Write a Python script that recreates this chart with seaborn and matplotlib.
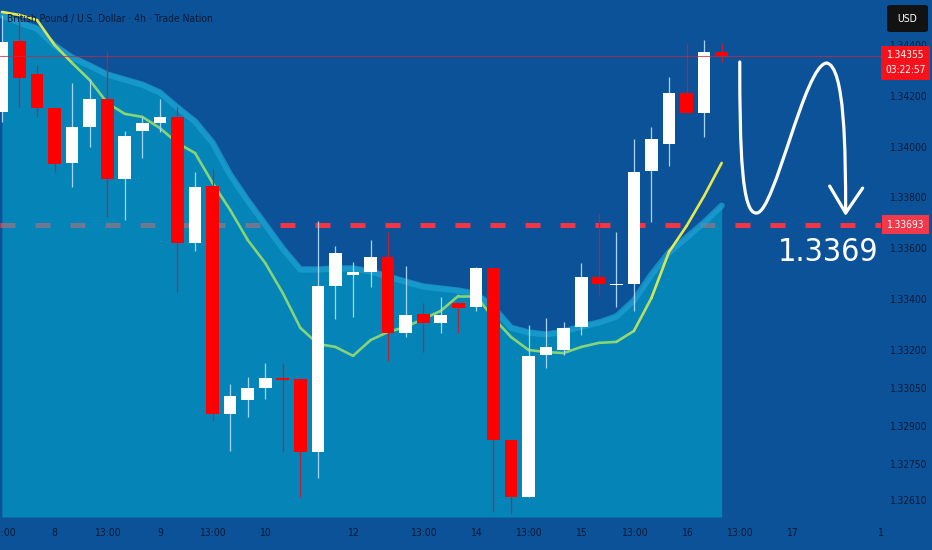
import numpy as np
import matplotlib
matplotlib.use('Agg')
import matplotlib.pyplot as plt
import matplotlib.transforms as mtransforms
from matplotlib.collections import LineCollection
from matplotlib.path import Path
from matplotlib.patches import PathPatch, FancyBboxPatch
import seaborn as sns

# GBP/USD 4h candles
opens = [1.34136, 1.34416, 1.34286, 1.34152, 1.33936, 1.34077, 1.34188, 1.33873, 1.34062, 1.34093,
         1.34117, 1.33621, 1.33845, 1.32948, 1.33003, 1.33051, 1.33090, 1.33086, 1.32799, 1.33452,
         1.33495, 1.33507, 1.33566, 1.33267, 1.33342, 1.33306, 1.33385, 1.33369, 1.33523, 1.32846,
         1.32622, 1.33180, 1.33200, 1.33291, 1.33487, 1.33456, 1.33460, 1.33904, 1.34011, 1.34211,
         1.34132, 1.34372]
highs = [1.34518, 1.34498, 1.34321, 1.34152, 1.34251, 1.34266, 1.34376, 1.34062, 1.34117, 1.34188,
         1.34156, 1.33900, 1.33912, 1.33066, 1.33094, 1.33149, 1.33149, 1.33086, 1.33708, 1.33609,
         1.33546, 1.33633, 1.33664, 1.33531, 1.33385, 1.33409, 1.33385, 1.33527, 1.33523, 1.32846,
         1.33298, 1.33326, 1.33310, 1.33542, 1.33739, 1.33664, 1.34030, 1.34077, 1.34274, 1.34408,
         1.34420, 1.34408]
lows = [1.34097, 1.34156, 1.34117, 1.33900, 1.33841, 1.33999, 1.33723, 1.33712, 1.33955, 1.34058,
        1.33428, 1.33590, 1.32921, 1.32803, 1.32937, 1.33007, 1.32799, 1.32622, 1.32697, 1.33322,
        1.33330, 1.33448, 1.33157, 1.33251, 1.33192, 1.33267, 1.33267, 1.33354, 1.32563, 1.32555,
        1.32622, 1.33129, 1.33180, 1.33259, 1.33417, 1.33369, 1.33354, 1.33704, 1.33924, 1.34132,
        1.34038, 1.34333]
closes = [1.34412, 1.34270, 1.34152, 1.33932, 1.34077, 1.34188, 1.33873, 1.34042, 1.34093, 1.34117,
          1.33621, 1.33841, 1.32948, 1.33019, 1.33051, 1.33090, 1.33082, 1.32799, 1.33452, 1.33582,
          1.33507, 1.33566, 1.33267, 1.33338, 1.33306, 1.33338, 1.33365, 1.33523, 1.32846, 1.32622,
          1.33177, 1.33212, 1.33287, 1.33487, 1.33460, 1.33460, 1.33900, 1.34030, 1.34211, 1.34132,
          1.34372, 1.34355]

# moving average line and upper edge of the shaded band
ma_line = [1.34530, 1.34518, 1.34498, 1.34400, 1.34329, 1.34262, 1.34172, 1.34129, 1.34117, 1.34073,
           1.34014, 1.33975, 1.33857, 1.33751, 1.33633, 1.33542, 1.33424, 1.33287, 1.33224, 1.33212,
           1.33177, 1.33239, 1.33271, 1.33291, 1.33322, 1.33354, 1.33413, 1.33413, 1.33326, 1.33251,
           1.33200, 1.33192, 1.33188, 1.33212, 1.33228, 1.33232, 1.33275, 1.33405, 1.33586, 1.33688,
           1.33806, 1.33936]
band_top = [1.34526, 1.34498, 1.34475, 1.34408, 1.34361, 1.34329, 1.34294, 1.34274, 1.34254, 1.34223,
            1.34164, 1.34109, 1.34026, 1.33900, 1.33798, 1.33704, 1.33609, 1.33527, 1.33527, 1.33531,
            1.33531, 1.33519, 1.33499, 1.33479, 1.33460, 1.33452, 1.33444, 1.33432, 1.33377, 1.33298,
            1.33279, 1.33271, 1.33283, 1.33302, 1.33318, 1.33342, 1.33405, 1.33507, 1.33594, 1.33653,
            1.33712, 1.33778]

tick_pos = [0, 3, 6, 9, 12, 15, 20, 24, 27, 30, 33, 36, 39, 42, 45, 50]
tick_labels = ['13:00', '8', '13:00', '9', '13:00', '10', '12', '13:00', '14', '13:00',
               '15', '13:00', '16', '13:00', '17', '1']
price_ticks = [1.344, 1.342, 1.340, 1.338, 1.336, 1.334, 1.332, 1.3305, 1.329, 1.3275, 1.3261]

last_price = 1.34355
countdown = '03:22:57'
target = 1.33693

# hand drawn arrow (candle index, price)
arrow_x = [42.03, 42.03, 42.14, 43.00, 44.02, 45.73, 46.98, 48.01, 48.06, 48.06]
arrow_y = [1.34333, 1.33987, 1.33731, 1.33739, 1.33743, 1.34325, 1.34329, 1.34317, 1.33987, 1.33739]
head_x = [47.15, 48.06, 49.03]
head_y = [1.33845, 1.33739, 1.33837]

BG = '#0b5299'
TXT = '#0c1a33'

sns.set_theme(style='dark', rc={'axes.facecolor': BG, 'figure.facecolor': BG,
                                'axes.edgecolor': BG, 'axes.grid': False})
plt.rcParams['font.family'] = ['DejaVu Sans']
plt.rcParams['font.stretch'] = 'condensed'

o = np.array(opens)
h = np.array(highs)
l = np.array(lows)
c = np.array(closes)
idx = np.arange(len(o))
up = c >= o

fig = plt.figure(figsize=(9.32, 5.5), dpi=100)
ax = fig.add_axes([0, 0.06, 0.945, 0.94])
ax.set_xlim(-0.11, 50.06)
ax.set_ylim(1.32543, 1.34577)
for s in ax.spines.values():
    s.set_visible(False)

# target line sits under the shaded band
ax.axhline(target, color='#f23645', lw=3.6, ls=(0, (3.0, 4.0)), solid_capstyle='butt',
           dash_capstyle='butt', zorder=1)

ax.fill_between(idx, band_top, ax.get_ylim()[0], color='#00afd0', alpha=0.55, lw=0, zorder=2)
sns.lineplot(x=idx, y=np.array(band_top) - 0.0001, color='#1fa3d3', lw=4.5, alpha=0.7,
             ax=ax, zorder=2.5)

# MA line, yellow at the ends and green in the middle
pts = np.column_stack([idx, ma_line])
segs = np.stack([pts[:-1], pts[1:]], axis=1)
w = np.interp(idx[:-1] + 0.5, [0, 2, 5, 35, 38, 41], [1, 1, 0, 0, 1, 1])
yellow = np.array([0.91, 0.91, 0.30])
green = np.array([0.52, 0.83, 0.47])
cols = w[:, None] * yellow + (1 - w[:, None]) * green
ax.add_collection(LineCollection(segs, colors=cols, linewidths=1.9, zorder=3,
                                 capstyle='round', joinstyle='round'))

# candles
wick_cols = np.where(up, '#a6d4f2', '#b3263a')
ax.vlines(idx, l, h, colors=wick_cols, lw=0.9, zorder=4)
body = np.maximum(np.abs(c - o), 0.00005)
ax.bar(idx, body, bottom=np.minimum(o, c), width=0.72,
       color=np.where(up, 'white', '#ff0000'), lw=0, zorder=5)

ax.axhline(last_price, color='#c22a45', lw=0.8, alpha=0.75, zorder=6)

# arrow
verts = list(zip(arrow_x, arrow_y))
codes = [Path.MOVETO] + [Path.CURVE4] * 9
ax.add_patch(PathPatch(Path(verts, codes), fill=False, ec='white', lw=2.3,
                       capstyle='round', joinstyle='round', zorder=7))
ax.plot(head_x, head_y, color='white', lw=2.3, solid_capstyle='round',
        solid_joinstyle='round', zorder=7)

blend = mtransforms.blended_transform_factory(ax.transAxes, ax.transData)
ax.annotate(f'{target:.4f}', xy=(1, target), xycoords=blend, xytext=(-2, -28),
            textcoords='offset pixels', ha='right', va='center', color='white',
            fontsize=23, zorder=8, annotation_clip=False)

# axes
ax.set_xticks(tick_pos, tick_labels)
ax.yaxis.tick_right()
ax.set_yticks(price_ticks, [f'{v:.5f}' for v in price_ticks])
ax.tick_params(axis='x', colors=TXT, labelsize=7.5, length=0, pad=8)
ax.tick_params(axis='y', colors=TXT, labelsize=7.3, length=0, pad=7)

# price tags on the scale
ax.annotate(f'{last_price:.5f}\n{countdown}', xy=(1, last_price), xycoords=blend,
            xytext=(25, 6), textcoords='offset pixels', ha='center', va='top',
            color='white', fontsize=7.3, linespacing=1.6, zorder=10, annotation_clip=False,
            bbox=dict(boxstyle='square,pad=0.45', fc='#f5121b', ec='none'))
ax.annotate(f'{target:.5f}', xy=(1, target), xycoords=blend,
            xytext=(25, 0), textcoords='offset pixels', ha='center', va='center',
            color='white', fontsize=7.3, zorder=10, annotation_clip=False,
            bbox=dict(boxstyle='square,pad=0.45', fc='#f0394a', ec='none'))

fig.add_artist(FancyBboxPatch((887 / 932, 1 - 32 / 550), 41 / 932, 27 / 550,
                              boxstyle='round,pad=0,rounding_size=0.004',
                              transform=fig.transFigure, fc='#121212', ec='none', zorder=3))
fig.text(907 / 932, 1 - 18.5 / 550, 'USD', color='white', fontsize=7.5,
         ha='center', va='center', zorder=4)

fig.text(7 / 932, 1 - 19 / 550, 'British Pound / U.S. Dollar · 4h · Trade Nation',
         color=TXT, fontsize=7.4, ha='left', va='center')

fig.savefig('out.png', dpi=100, facecolor=BG)
